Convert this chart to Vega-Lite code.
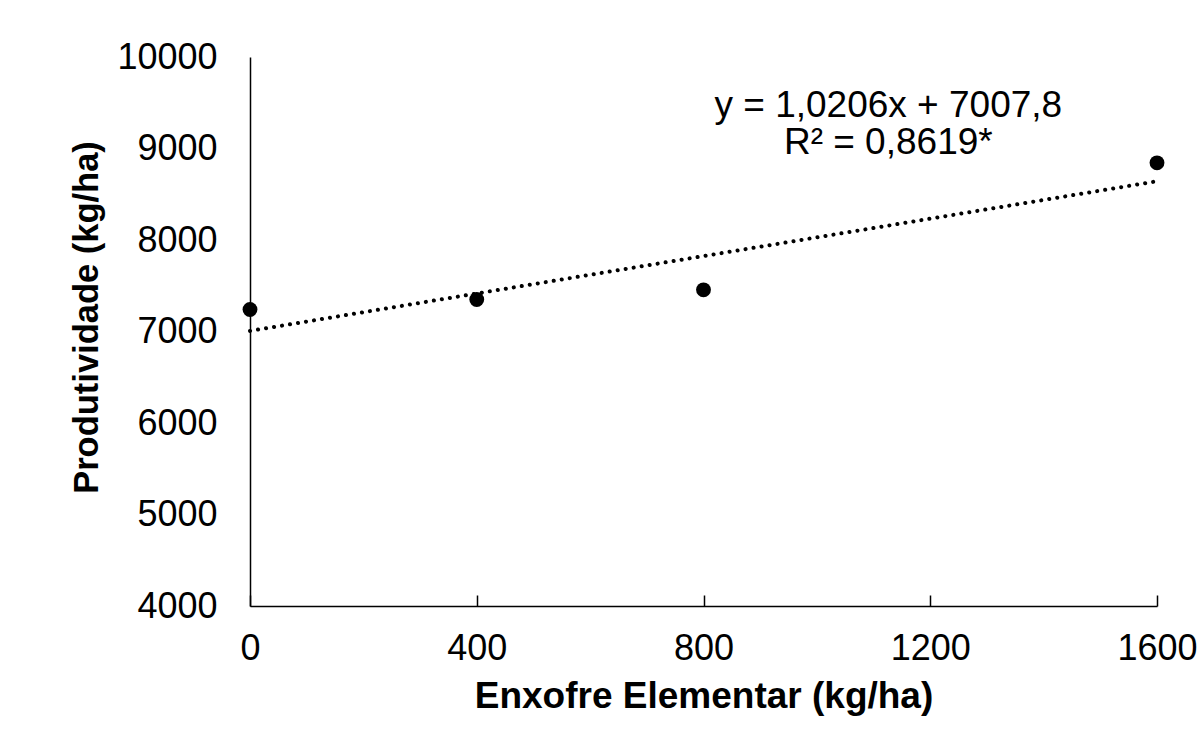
{
  "$schema": "https://vega.github.io/schema/vega-lite/v6.json",
  "autosize": {"type": "none"},
  "padding": {"left": 250, "top": 57, "right": 43, "bottom": 137},
  "width": 907,
  "height": 549,
  "background": "white",
  "config": {
    "view": {"stroke": null},
    "font": "Liberation Sans",
    "axis": {"grid": false, "domainColor": "#000000", "domainWidth": 1.5, "labelColor": "#000000", "titleColor": "#000000", "labelFont": "Liberation Sans", "titleFont": "Liberation Sans"}
  },
  "datasets": {
    "pts": [
      {"enxofre": 0, "prod": 7240},
      {"enxofre": 400, "prod": 7350},
      {"enxofre": 800, "prod": 7455},
      {"enxofre": 1600, "prod": 8843}
    ],
    "eq": [
      {"label": "y = 1,0206x + 7007,8\nR² = 0,8619*", "x": 1126, "y": 9344}
    ]
  },
  "encoding": {
    "x": {"field": "enxofre", "type": "quantitative", "scale": {"domain": [0, 1600], "nice": false},
      "axis": {"values": [0, 400, 800, 1200, 1600], "format": "d", "labelFlush": false, "tickSize": -11, "tickColor": "#000000", "tickWidth": 1.5, "labelFontSize": 36, "labelPadding": 36, "title": "Enxofre Elementar (kg/ha)", "titleFontSize": 37, "titleFontWeight": "bold", "titlePadding": 12}},
    "y": {"field": "prod", "type": "quantitative", "scale": {"domain": [4000, 10000], "nice": false, "zero": false},
      "axis": {"values": [4000, 5000, 6000, 7000, 8000, 9000, 10000], "format": "d", "labelFlush": false, "ticks": false, "labelFontSize": 36, "labelPadding": 33, "title": "Produtividade (kg/ha)", "titleFontSize": 34.5, "titleFontWeight": "bold", "titlePadding": 12, "titleY": 260}}
  },
  "layer": [
    {
      "data": {"name": "pts"},
      "transform": [{"regression": "prod", "on": "enxofre", "extent": [0, 1600]}],
      "mark": {"type": "line", "color": "#000000", "strokeWidth": 4, "strokeDash": [0.1, 8], "strokeCap": "round"}
    },
    {
      "data": {"name": "pts"},
      "mark": {"type": "circle", "color": "#000000", "opacity": 1, "size": 220}
    },
    {
      "data": {"name": "eq"},
      "mark": {"type": "text", "fontSize": 37, "align": "center", "baseline": "alphabetic", "lineBreak": "\n", "lineHeight": 37, "color": "#000000"},
      "encoding": {
        "x": {"field": "x", "type": "quantitative"},
        "y": {"field": "y", "type": "quantitative"},
        "text": {"field": "label"}
      }
    }
  ]
}
